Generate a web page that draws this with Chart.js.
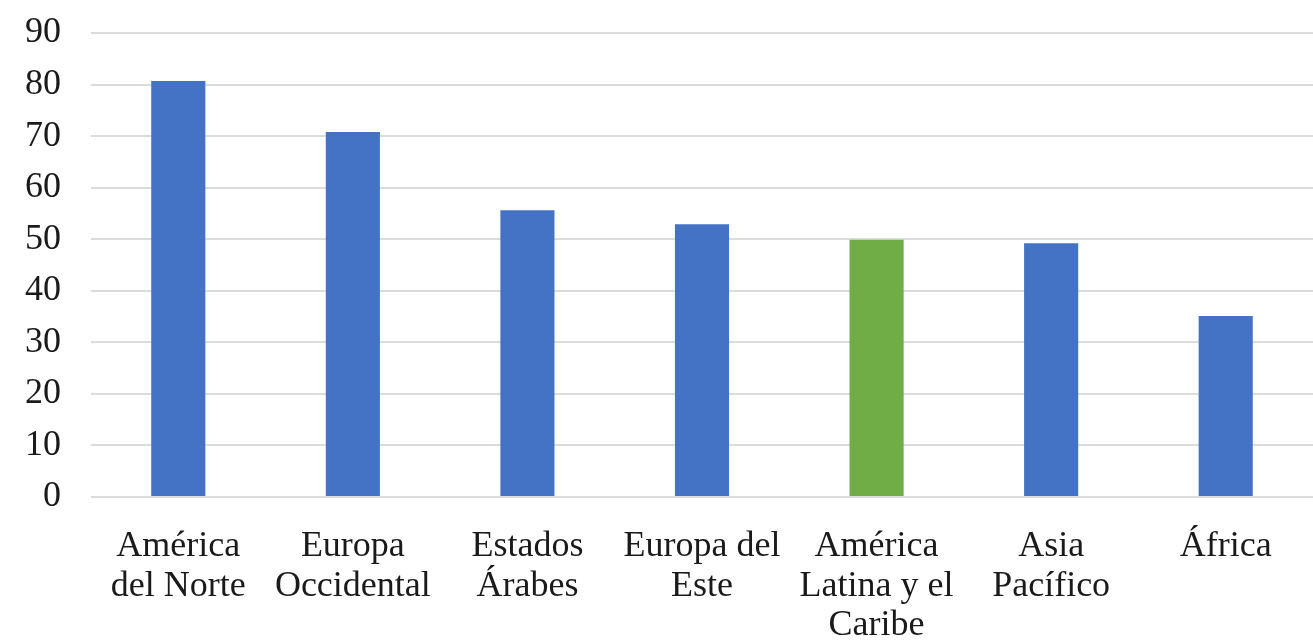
<!DOCTYPE html>
<html lang="es">
<head>
    <meta charset="UTF-8">
    <title>Regiones</title>
    <script src="https://cdn.jsdelivr.net/npm/chart.js"></script>
    <style>
        html, body { margin: 0; padding: 0; background: #fff; }
        #wrap { width: 1313px; height: 641px; }
    </style>
</head>
<body>
    <div id="wrap"><canvas id="regionChart"></canvas></div>
    <script>
        const regions = [
            ['América', 'del Norte'],
            ['Europa', 'Occidental'],
            ['Estados', 'Árabes'],
            ['Europa del', 'Este'],
            ['América', 'Latina y el', 'Caribe'],
            ['Asia', 'Pacífico'],
            'África'
        ];
        const values = [80.7, 70.8, 55.6, 52.9, 49.9, 49.2, 35.1];
        const barColors = ['#4472C4', '#4472C4', '#4472C4', '#4472C4', '#70AD47', '#4472C4', '#4472C4'];
        const yTicks = [0, 10, 20, 30, 40, 50, 60, 70, 80, 90];

        const labelFont = { family: '"Liberation Serif", "Times New Roman", serif', size: 36, lineHeight: 1.1 };

        new Chart(document.getElementById('regionChart'), {
            type: 'bar',
            data: {
                labels: regions,
                datasets: [{
                    data: values,
                    backgroundColor: barColors,
                    categoryPercentage: 1,
                    barPercentage: 0.31
                }]
            },
            options: {
                responsive: true,
                maintainAspectRatio: false,
                animation: false,
                layout: { autoPadding: false, padding: { top: 33, right: 0, bottom: 0, left: 0 } },
                plugins: {
                    legend: { display: false },
                    tooltip: { enabled: false }
                },
                scales: {
                    x: {
                        grid: { display: false, drawTicks: false },
                        border: { display: false },
                        ticks: { color: '#1a1a1a', font: labelFont, padding: 30, maxRotation: 0, autoSkip: false },
                        afterFit: (axis) => {
                            axis.height = 144;
                            axis.paddingLeft = 0;
                            axis.paddingRight = 0;
                        }
                    },
                    y: {
                        min: 0,
                        max: 90,
                        afterBuildTicks: (axis) => { axis.ticks = yTicks.map(v => ({ value: v })); },
                        grid: { color: '#dcdcdc', lineWidth: 2, drawTicks: false },
                        border: { display: false },
                        ticks: { color: '#1a1a1a', font: labelFont, padding: 30 },
                        afterFit: (axis) => {
                            axis.width = 91;
                            axis.paddingTop = 0;
                            axis.paddingBottom = 0;
                        }
                    }
                }
            }
        });
    </script>
</body>
</html>
